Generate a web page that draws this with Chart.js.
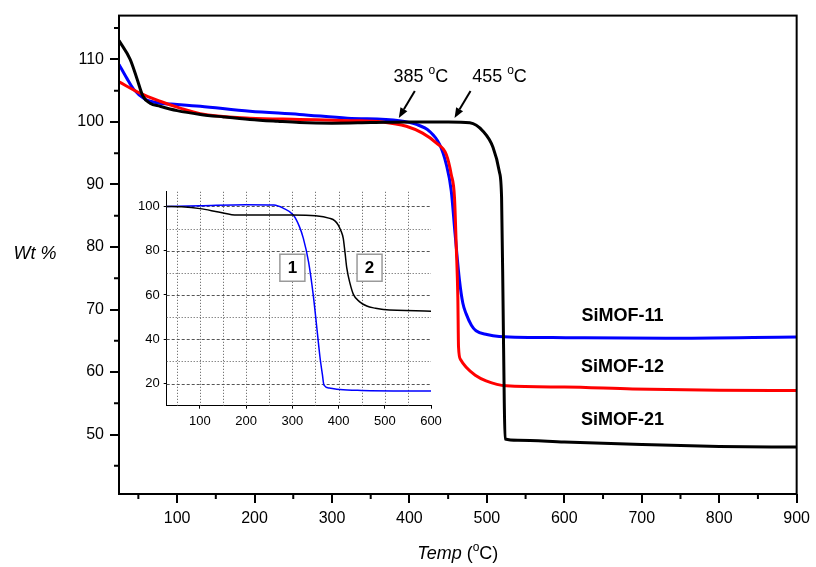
<!DOCTYPE html>
<html>
<head>
<meta charset="utf-8">
<script src="https://cdn.jsdelivr.net/npm/chart.js@4.4.0/dist/chart.umd.min.js"></script>
<style>
  html, body { margin: 0; padding: 0; background: #fff; }
  #wrap { position: relative; width: 816px; height: 567px; }
  #mainChart { position: absolute; left: 0; top: 0; }
  #insetChart { position: absolute; left: 110px; top: 180px; }
</style>
</head>
<body>
<div id="wrap">
  <canvas id="mainChart" width="816" height="567" style="width:816px;height:567px"></canvas>
  <canvas id="insetChart" width="340" height="250" style="width:340px;height:250px"></canvas>
</div>
<script>
const FONT = "'Liberation Sans', Arial, Helvetica, sans-serif";

// --- main plot: TGA curves ---
const sim11Temp = [25, 35, 44, 59, 78, 100, 130, 194, 258, 320, 387, 409, 426, 439, 447.6, 454, 459, 464.7, 469, 473.3, 480, 486, 500, 516, 602, 731, 900];
const sim11Wt   = [109.2, 107, 105.2, 103.6, 103, 102.8, 102.5, 101.7, 101.2, 100.6, 100.2, 99.6, 98.5, 96.4, 93.2, 89, 82, 74.6, 71, 69.3, 67.5, 66.6, 66, 65.7, 65.5, 65.4, 65.6];

const sim12Temp = [25, 52, 78, 104, 130, 194, 258, 323, 365, 396, 417, 435, 447.6, 454, 458.2, 460.5, 462.5, 463.4, 466, 473, 485, 499, 525, 600, 688, 800, 900];
const sim12Wt   = [106.4, 104.6, 103.3, 102.2, 101.3, 100.6, 100.4, 100.2, 100, 99.3, 98.2, 96.6, 94.8, 91.6, 87.9, 80, 72, 64, 62, 60.8, 59.5, 58.6, 57.8, 57.6, 57.3, 57.1, 57.05];

const sim21Temp = [25, 39.4, 48, 56, 65, 78, 100, 130, 160, 194, 230, 258, 300, 350, 400, 450, 478, 495, 508, 516, 519, 521, 522.5, 523.5, 540, 600, 700, 800, 900];
const sim21Wt   = [113, 110, 107, 104.1, 103, 102.5, 101.8, 101.2, 100.8, 100.4, 100.1, 99.9, 99.8, 99.9, 100, 100, 99.85, 98.5, 95.9, 92.1, 87.9, 70, 55, 49.3, 49.1, 48.8, 48.4, 48.1, 48];

const mainXTicks = [100, 200, 300, 400, 500, 600, 700, 800, 900];
const mainXMinor = [50, 150, 250, 350, 450, 550, 650, 750, 850];
const mainYTicks = [50, 60, 70, 80, 90, 100, 110];
const mainYMinor = [45, 55, 65, 75, 85, 95, 105, 115];

// onset annotations
const onsetTemps = [385, 455];
const onsetLabels = ['385 ', '455 '];

// curve names, placed at (temp, wt)
const curveNames = ['SiMOF-11', 'SiMOF-12', 'SiMOF-21'];
const curveNameTemp = [675, 675, 675];
const curveNameWt = [68.9, 60.8, 52.3];

// --- inset ---
const inset1Temp = [28, 100, 200, 260, 280, 302, 315, 323.6, 335, 345, 352, 359.7, 365, 368.4, 380, 403, 450, 600];
const inset1Wt   = [100, 100.3, 100.8, 100.6, 99.2, 96.1, 91, 85.7, 75, 60.3, 47, 32, 24, 19.3, 18, 17.3, 16.9, 16.6];

const inset2Temp = [28, 60, 100, 140, 180, 250, 300, 350, 381, 392, 399, 405, 410, 414, 417.7, 425, 432, 445, 461, 480, 497, 600];
const inset2Wt   = [100, 99.8, 99, 97.5, 96.1, 96.1, 96.1, 95.8, 94.6, 93.5, 91.7, 89, 85.7, 79, 72.2, 65, 60.3, 57, 55, 54, 53.4, 52.7];

const insetXTicks = [100, 200, 300, 400, 500, 600];
const insetYTicks = [20, 40, 60, 80, 100];
const insetGridX = [50, 100, 150, 200, 250, 300, 350, 400, 450, 500, 550];
const insetGridYDash = [20, 40, 60, 80, 100];
const insetGridYDot = [30, 50, 70, 90];
const insetBoxLabels = ['1', '2'];
const insetBoxTemp = [300, 467];
const insetBoxWt = [72.3, 72.3];

function pts(xs, ys) { return xs.map((x, i) => ({ x: x, y: ys[i] })); }

function drawRich(ctx, parts, cx, baseline) {
    let w = 0;
    parts.forEach(p => { ctx.font = p.font; p.w = ctx.measureText(p.t).width; w += p.w; });
    let x = cx - w / 2;
    ctx.textAlign = 'left';
    ctx.textBaseline = 'alphabetic';
    parts.forEach(p => { ctx.font = p.font; ctx.fillText(p.t, x, baseline + (p.dy || 0)); x += p.w; });
}

function arrow(ctx, x1, y1, x2, y2) {
    const ang = Math.atan2(y2 - y1, x2 - x1);
    const hl = 10, hw = 4;
    const bx = x2 - hl * Math.cos(ang), by = y2 - hl * Math.sin(ang);
    ctx.beginPath();
    ctx.moveTo(x1, y1);
    ctx.lineTo(bx, by);
    ctx.stroke();
    ctx.beginPath();
    ctx.moveTo(x2, y2);
    ctx.lineTo(bx + hw * Math.sin(ang), by - hw * Math.cos(ang));
    ctx.lineTo(bx - hw * Math.sin(ang), by + hw * Math.cos(ang));
    ctx.closePath();
    ctx.fill();
}

const mainDecor = {
    id: 'mainDecor',
    afterDraw(chart) {
        const ctx = chart.ctx, a = chart.chartArea;
        const xs = chart.scales.x, ys = chart.scales.y;
        ctx.save();
        ctx.strokeStyle = '#000';
        ctx.fillStyle = '#000';
        ctx.lineWidth = 2;
        ctx.strokeRect(a.left, a.top, a.right - a.left, a.bottom - a.top);

        // minor ticks
        ctx.beginPath();
        mainXMinor.forEach(v => { const p = xs.getPixelForValue(v); ctx.moveTo(p, a.bottom); ctx.lineTo(p, a.bottom + 5); });
        mainYMinor.forEach(v => { const p = ys.getPixelForValue(v); ctx.moveTo(a.left, p); ctx.lineTo(a.left - 5, p); });
        ctx.stroke();

        // axis titles
        ctx.font = 'italic 18px ' + FONT;
        ctx.textAlign = 'center';
        ctx.textBaseline = 'middle';
        ctx.fillText('Wt %', 35, 254);
        drawRich(ctx, [
            { t: 'Temp', font: 'italic 18px ' + FONT },
            { t: ' (', font: '18px ' + FONT },
            { t: 'o', font: '12px ' + FONT, dy: -8 },
            { t: 'C)', font: '18px ' + FONT }
        ], (a.left + a.right) / 2, 559);

        // onset arrows
        ctx.lineWidth = 2;
        onsetTemps.forEach((t, i) => {
            const tx = xs.getPixelForValue(t) + 1 + i * 1.5, ty = ys.getPixelForValue(100) - 4;
            arrow(ctx, tx + 16, ty - 27, tx, ty);
            drawRich(ctx, [
                { t: onsetLabels[i], font: '18px ' + FONT },
                { t: 'o', font: '12px ' + FONT, dy: -8 },
                { t: 'C', font: '18px ' + FONT }
            ], tx + (i === 0 ? 22 : 45), ty - 36);
        });

        // curve names
        ctx.font = 'bold 18px ' + FONT;
        ctx.textAlign = 'center';
        ctx.textBaseline = 'middle';
        curveNames.forEach((n, i) => {
            ctx.fillText(n, xs.getPixelForValue(curveNameTemp[i]), ys.getPixelForValue(curveNameWt[i]));
        });
        ctx.restore();
    }
};

new Chart(document.getElementById('mainChart'), {
    type: 'line',
    data: {
        datasets: [
            { label: 'SiMOF-21', data: pts(sim21Temp, sim21Wt), borderColor: '#000000', borderWidth: 3 },
            { label: 'SiMOF-12', data: pts(sim12Temp, sim12Wt), borderColor: '#ff0000', borderWidth: 3 },
            { label: 'SiMOF-11', data: pts(sim11Temp, sim11Wt), borderColor: '#0000ff', borderWidth: 3 }
        ]
    },
    options: {
        responsive: false,
        animation: false,
        layout: { padding: { top: 14, right: 18, left: 0, bottom: 0 } },
        elements: { point: { radius: 0 }, line: { cubicInterpolationMode: 'monotone', fill: false } },
        plugins: { legend: { display: false }, tooltip: { enabled: false } },
        scales: {
            x: {
                type: 'linear', min: 25, max: 900,
                afterBuildTicks: s => { s.ticks = mainXTicks.map(v => ({ value: v })); },
                afterFit: s => { s.height = 73; },
                grid: { drawOnChartArea: false, tickLength: 9, tickWidth: 2, tickColor: '#000', color: '#000', lineWidth: 2 },
                border: { display: false },
                ticks: { color: '#000', font: { family: FONT, size: 16 }, padding: 6, maxRotation: 0, autoSkip: false }
            },
            y: {
                type: 'linear', min: 40.5, max: 117,
                afterBuildTicks: s => { s.ticks = mainYTicks.map(v => ({ value: v })); },
                afterFit: s => { s.width = 119; },
                grid: { drawOnChartArea: false, tickLength: 9, tickWidth: 2, tickColor: '#000', color: '#000', lineWidth: 2 },
                border: { display: false },
                ticks: { color: '#000', font: { family: FONT, size: 16 }, padding: 6, autoSkip: false }
            }
        }
    },
    plugins: [mainDecor]
});

const insetDecor = {
    id: 'insetDecor',
    beforeDatasetsDraw(chart) {
        const ctx = chart.ctx, a = chart.chartArea;
        const xs = chart.scales.x, ys = chart.scales.y;
        const xr = xs.getPixelForValue(600);
        ctx.save();
        ctx.strokeStyle = '#555';
        ctx.lineWidth = 1;
        ctx.setLineDash([1, 2]);
        ctx.beginPath();
        insetGridX.forEach(v => { const p = Math.round(xs.getPixelForValue(v)) + 0.5; ctx.moveTo(p, a.top); ctx.lineTo(p, a.bottom); });
        insetGridYDot.forEach(v => { const p = Math.round(ys.getPixelForValue(v)) + 0.5; ctx.moveTo(a.left, p); ctx.lineTo(xr, p); });
        ctx.stroke();
        ctx.setLineDash([3, 2]);
        ctx.beginPath();
        insetGridYDash.forEach(v => { const p = Math.round(ys.getPixelForValue(v)) + 0.5; ctx.moveTo(a.left, p); ctx.lineTo(xr, p); });
        ctx.stroke();
        ctx.restore();
    },
    afterDraw(chart) {
        const ctx = chart.ctx;
        const xs = chart.scales.x, ys = chart.scales.y;
        ctx.save();
        insetBoxLabels.forEach((t, i) => {
            const cx = xs.getPixelForValue(insetBoxTemp[i]), cy = ys.getPixelForValue(insetBoxWt[i]);
            ctx.fillStyle = '#fff';
            ctx.fillRect(cx - 12.5, cy - 13.5, 25, 27);
            ctx.strokeStyle = '#9a9a9a';
            ctx.lineWidth = 1.5;
            ctx.strokeRect(cx - 12.5, cy - 13.5, 25, 27);
            ctx.fillStyle = '#000';
            ctx.font = 'bold 17px ' + FONT;
            ctx.textAlign = 'center';
            ctx.textBaseline = 'middle';
            ctx.fillText(t, cx, cy + 1);
        });
        ctx.restore();
    }
};

new Chart(document.getElementById('insetChart'), {
    type: 'line',
    data: {
        datasets: [
            { label: '2', data: pts(inset2Temp, inset2Wt), borderColor: '#000000', borderWidth: 1.5 },
            { label: '1', data: pts(inset1Temp, inset1Wt), borderColor: '#0000ff', borderWidth: 1.5 }
        ]
    },
    options: {
        responsive: false,
        animation: false,
        layout: { padding: { top: 10, right: 19, left: 0, bottom: 0 } },
        elements: { point: { radius: 0 }, line: { cubicInterpolationMode: 'monotone', fill: false } },
        plugins: { legend: { display: false }, tooltip: { enabled: false } },
        scales: {
            x: {
                type: 'linear', min: 28, max: 600,
                afterBuildTicks: s => { s.ticks = insetXTicks.map(v => ({ value: v })); },
                afterFit: s => { s.height = 24.3; },
                grid: { drawOnChartArea: false, tickLength: 3, tickColor: '#000', color: '#000' },
                border: { display: true, color: '#000', width: 1 },
                ticks: { color: '#000', font: { family: FONT, size: 13 }, padding: 5, maxRotation: 0, autoSkip: false }
            },
            y: {
                type: 'linear', min: 10, max: 106.6,
                afterBuildTicks: s => { s.ticks = insetYTicks.map(v => ({ value: v })); },
                afterFit: s => { s.width = 56.7; },
                grid: { drawOnChartArea: false, tickLength: 3, tickColor: '#000', color: '#000' },
                border: { display: true, color: '#000', width: 1 },
                ticks: { color: '#000', font: { family: FONT, size: 13 }, padding: 4, autoSkip: false }
            }
        }
    },
    plugins: [insetDecor]
});
</script>
</body>
</html>
